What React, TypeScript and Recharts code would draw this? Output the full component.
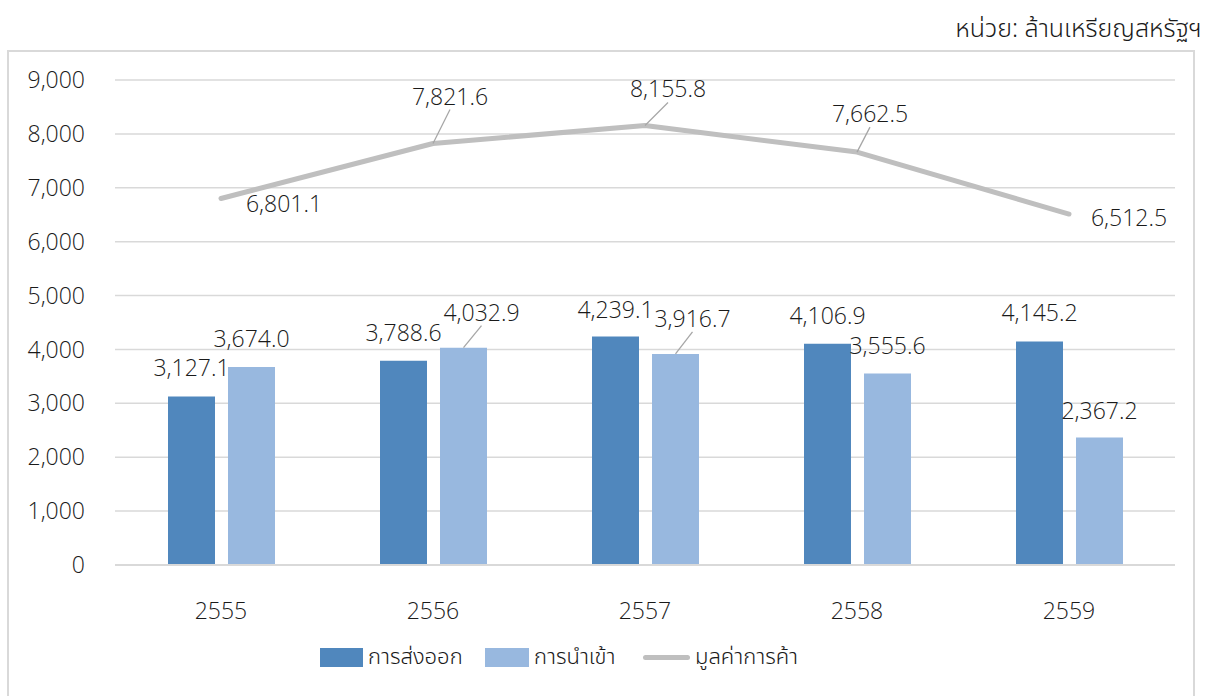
import React from "react";
import {
  ComposedChart,
  Bar,
  Line,
  XAxis,
  YAxis,
  CartesianGrid,
  Legend,
  LabelList,
} from "recharts";

const years = ["2555", "2556", "2557", "2558", "2559"];
const exportsValue = [3127.1, 3788.6, 4239.1, 4106.9, 4145.2];
const importsValue = [3674.0, 4032.9, 3916.7, 3555.6, 2367.2];
const tradeValue = [6801.1, 7821.6, 8155.8, 7662.5, 6512.5];
const yTicks = [0, 1000, 2000, 3000, 4000, 5000, 6000, 7000, 8000, 9000];

const seriesNames = {
  exports: "การส่งออก",
  imports: "การนำเข้า",
  trade: "มูลค่าการค้า",
};
const unitText = "หน่วย: ล้านเหรียญสหรัฐฯ";

const FONT = "'Open Sans', 'Noto Sans', sans-serif";
const FONT_TH = "'Noto Sans Thai', 'Noto Sans Thai UI', Loma, Garuda, Sarabun, 'Open Sans', sans-serif";
const WEIGHT = 300;
const DARK = "#5087BD";
const LIGHT = "#98B8DF";
const GRAY = "#BFBFBF";
const GRID = "#D9D9D9";
const LEADER = "#A6A6A6";
const INK = "#1a1a1a";

// label nudges (dx, dy from anchor to text centre) and whether to draw a leader line
const exportsNudge = [[0, -29], [0, -29], [0, -28], [0, -29], [0, -30]];
const importsNudge = [[0, -29], [18, -36, 1], [17, -36, 1], [0, -28], [0, -27]];
const tradeNudge = [[63, 5], [17, -48, 1], [23, -37, 1], [13, -39, 1], [60, 3]];

const data = years.map((y, i) => ({
  year: y,
  exports: exportsValue[i],
  imports: importsValue[i],
  trade: tradeValue[i],
}));

const fmt = (v: number) =>
  v.toLocaleString("en-US", { minimumFractionDigits: 1, maximumFractionDigits: 1 });

function makeLabel(nudge: number[][], isBar: boolean) {
  return (props: any) => {
    const { x, y, width, value, index } = props;
    const ax = isBar ? x + width / 2 : x;
    const ay = y;
    const [dx, dy, leader] = nudge[index];
    const tx = ax + dx;
    const ty = ay + dy;
    return (
      <g>
        {leader ? (
          <line
            x1={ax}
            y1={ay}
            x2={ax + dx}
            y2={ay + dy + 14}
            stroke={LEADER}
            strokeWidth={1.3}
          />
        ) : null}
        <text
          x={tx}
          y={ty}
          textAnchor="middle"
          dominantBaseline="central"
          fontSize={23}
          fontWeight={WEIGHT}
          fontFamily={FONT}
          fill={INK}
        >
          {fmt(value)}
        </text>
      </g>
    );
  };
}

function LegendContent() {
  const item = (swatch: React.ReactNode, label: string, w: number) => (
    <div style={{ display: "flex", alignItems: "center", width: w }}>
      {swatch}
      <span
        style={{ marginLeft: 5, fontSize: 22, fontWeight: WEIGHT, fontFamily: FONT_TH, color: INK }}
      >
        {label}
      </span>
    </div>
  );
  return (
    <div style={{ display: "flex", alignItems: "center", paddingLeft: 320 }}>
      {item(<div style={{ width: 43, height: 19, background: DARK }} />, seriesNames.exports, 165)}
      {item(<div style={{ width: 44, height: 19, background: LIGHT }} />, seriesNames.imports, 158)}
      {item(
        <div style={{ width: 47, height: 5, borderRadius: 3, background: GRAY }} />,
        seriesNames.trade,
        170
      )}
    </div>
  );
}

export default function App() {
  return (
    <div
      style={{
        position: "absolute",
        left: 0,
        top: 0,
        width: 1210,
        height: 696,
        background: "#fff",
        overflow: "hidden",
        fontFamily: FONT,
      }}
    >
      <div
        style={{
          position: "absolute",
          right: 8,
          top: 10,
          fontSize: 25,
          fontWeight: WEIGHT,
          color: INK,
          fontFamily: FONT_TH,
        }}
      >
        {unitText}
      </div>
      <div
        style={{
          position: "absolute",
          left: 7,
          top: 50,
          width: 1184,
          height: 680,
          border: `2px solid ${GRID}`,
        }}
      />
      <ComposedChart
        width={1210}
        height={696}
        data={data}
        margin={{ top: 80, right: 35, left: 15, bottom: 81 }}
        barGap={13}
        style={{ position: "absolute", left: 0, top: 0 }}
      >
        <CartesianGrid vertical={false} stroke={GRID} strokeWidth={1.5} />
        <XAxis
          dataKey="year"
          axisLine={{ stroke: GRID, strokeWidth: 2 }}
          tickLine={false}
          height={50}
          tick={{ fontSize: 23, fontWeight: WEIGHT, fontFamily: FONT, fill: INK, dy: 30 }}
        />
        <YAxis
          domain={[0, 9000]}
          ticks={yTicks}
          width={100}
          axisLine={false}
          tickLine={false}
          tickFormatter={(v: number) => v.toLocaleString("en-US")}
          tick={{ fontSize: 23, fontWeight: WEIGHT, fontFamily: FONT, fill: INK, dx: -22 }}
        />
        <Legend
          layout="horizontal"
          verticalAlign="middle"
          content={<LegendContent />}
          wrapperStyle={{ top: 641, left: 0, width: 1210 }}
        />
        <Bar dataKey="exports" name={seriesNames.exports} fill={DARK} barSize={47} isAnimationActive={false}>
          <LabelList dataKey="exports" content={makeLabel(exportsNudge, true)} />
        </Bar>
        <Bar dataKey="imports" name={seriesNames.imports} fill={LIGHT} barSize={47} isAnimationActive={false}>
          <LabelList dataKey="imports" content={makeLabel(importsNudge, true)} />
        </Bar>
        <Line
          dataKey="trade"
          name={seriesNames.trade}
          stroke={GRAY}
          strokeWidth={5}
          strokeLinecap="round"
          strokeLinejoin="round"
          dot={false}
          activeDot={false}
          isAnimationActive={false}
        >
          <LabelList dataKey="trade" content={makeLabel(tradeNudge, false)} />
        </Line>
      </ComposedChart>
    </div>
  );
}
